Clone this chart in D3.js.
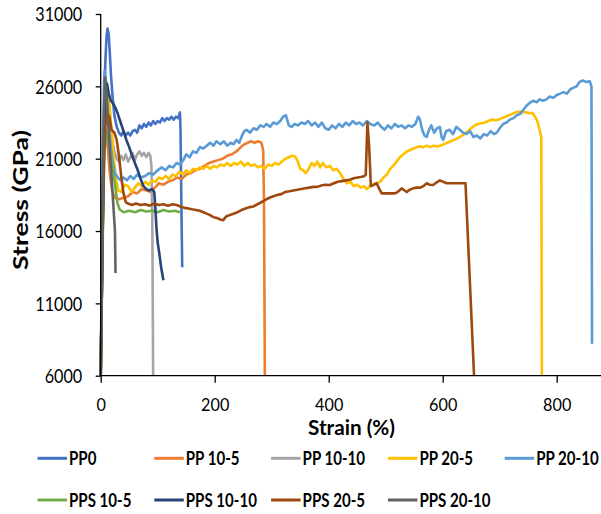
<!DOCTYPE html>
<html><head><meta charset="utf-8">
<script src="https://cdn.jsdelivr.net/npm/d3@7"></script>
<style>body{margin:0;background:#fff}svg{display:block}text{font-family:Lato,"Open Sans",sans-serif;fill:#000}</style>
</head><body><svg id="c" width="601" height="514"></svg>
<script>
// ---------- data ----------
const xTicks = [0, 200, 400, 600, 800];
const yTicks = [6000, 11000, 16000, 21000, 26000, 31000];
const seriesNames = ["PP0", "PP 10-5", "PP 10-10", "PP 20-5", "PP 20-10", "PPS 10-5", "PPS 10-10", "PPS 20-5", "PPS 20-10"];
const seriesColors = ["#4472C4", "#ED7D31", "#A5A5A5", "#FFC000", "#5B9BD5", "#70AD47", "#264478", "#9E480E", "#636363"];

const pp0 = [[0,6000],[2,12000],[4,18000],[6,24000],[8,27500],[10,29300],[12,30000],[14,29600],[16,28300],[18,26800],[21,25200],[24,24000],[28,23200],[32,22800],[36,22600],[40,22900],[44,22600],[48,22800],[52,22600],[56,22900],[60,23000],[64,22800],[68,23300],[72,23100],[76,23400],[80,23200],[84,23500],[88,23300],[92,23600],[96,23400],[100,23600],[104,23500],[108,23800],[112,23600],[116,23800],[120,23700],[124,23900],[128,23700],[132,23900],[136,23800],[139,24200],[140,23000],[141.5,18000],[143,13500]];
const pp10_5 = [[0,6000],[3,15000],[6,21000],[9,23000],[12,22000],[16,20000],[20,18800],[25,18300],[32,18200],[40,18300],[48,18400],[56,18700],[64,18600],[72,18900],[80,18800],[88,18700],[95,19000],[102,19300],[110,19200],[118,19400],[126,19500],[134,19700],[142,19600],[150,19900],[158,20000],[166,20200],[174,20300],[182,20500],[190,20700],[198,20800],[206,20900],[214,21000],[222,21200],[230,21300],[238,21500],[246,21800],[252,22000],[258,22100],[264,22200],[270,22100],[276,22200],[282,22100],[285,21600],[286.5,18000],[288,6000]];
const pp10_10 = [[0,6000],[3,15000],[6,23000],[9,25300],[12,24800],[16,23500],[20,22300],[24,21500],[28,21000],[32,20800],[36,21200],[40,20900],[44,21300],[48,20800],[52,21100],[56,21400],[60,20900],[64,21300],[68,21500],[72,21200],[76,21400],[80,21100],[84,21400],[87,21200],[89,20500],[90.5,17000],[92,6000]];
const pp20_5 = [[0,6000],[3,16000],[6,23000],[9,25500],[12,26000],[15,25000],[19,23000],[23,21000],[27,19500],[31,18800],[36,18700],[42,19200],[48,19100],[54,18700],[60,19000],[66,19300],[72,19100],[78,19400],[84,19200],[90,19500],[96,19400],[102,19700],[108,19600],[114,19800],[120,19600],[126,19900],[132,19800],[138,20100],[144,19900],[150,20200],[156,20000],[162,20300],[168,20200],[174,20400],[180,20300],[186,20500],[192,20300],[198,20500],[204,20400],[210,20600],[216,20500],[222,20700],[228,20500],[234,20700],[240,20600],[246,20800],[252,20500],[258,20700],[264,20500],[270,20600],[276,20400],[282,20500],[288,20300],[294,20600],[300,20500],[306,20700],[312,20600],[318,20800],[324,21000],[330,21100],[336,21200],[341,21150],[346,20800],[350,20300],[355,20200],[360,20000],[365,20300],[370,20700],[375,20500],[380,20800],[385,20400],[390,20700],[396,20400],[402,20500],[408,20200],[414,20300],[420,20000],[426,19600],[432,19300],[438,19400],[444,19100],[450,19200],[456,19000],[462,19100],[467,18900],[472,19100],[478,19200],[484,19300],[490,19400],[496,19700],[502,19900],[508,20300],[513,20500],[519,20800],[525,21100],[531,21300],[537,21500],[543,21600],[549,21700],[555,21800],[560,21850],[566,21800],[572,21900],[578,21800],[584,21900],[590,21850],[596,21900],[602,22000],[608,22100],[614,22200],[620,22300],[626,22400],[632,22550],[638,22700],[644,22900],[650,23100],[656,23300],[662,23400],[668,23450],[674,23500],[680,23600],[686,23700],[692,23650],[698,23700],[704,23800],[710,23900],[716,24000],[722,24100],[728,24200],[734,24250],[740,24250],[746,24200],[752,24150],[758,24150],[762,23900],[766,23600],[770,23000],[773,22500],[774,6000]];
const pp20_10 = [[0,6000],[2,14000],[4,22000],[6,26500],[7,27100],[9,26500],[12,24500],[16,22500],[20,21000],[25,20000],[30,19700],[35,19500],[40,19700],[46,19500],[52,19800],[58,19600],[64,19900],[70,19700],[78,19800],[85,20000],[92,19900],[100,20200],[107,20400],[114,20200],[120,20500],[127,20400],[133,20700],[139,20600],[145,20900],[150,21300],[156,21100],[162,21500],[168,21400],[174,21800],[180,21700],[186,21900],[192,22100],[198,21900],[203,22200],[210,22000],[216,22200],[222,21900],[228,22100],[233,22000],[238,22300],[243,22100],[248,22600],[252,22900],[256,23000],[262,22800],[268,23100],[274,23000],[280,23300],[286,23200],[291,23400],[297,23200],[303,23500],[309,23400],[315,23600],[320,23900],[325,24000],[330,23300],[335,23200],[340,23400],[346,23300],[352,23500],[358,23400],[364,23600],[370,23300],[376,23500],[382,23200],[388,23500],[394,23100],[400,23000],[406,23300],[412,23100],[418,23400],[424,23200],[430,23500],[436,23300],[442,23600],[448,23400],[454,23500],[460,23300],[467,23600],[473,23400],[480,23300],[486,23500],[492,23200],[498,23000],[504,23300],[510,23100],[516,23400],[522,23200],[528,23300],[534,23100],[540,23300],[546,23200],[552,23400],[557,23900],[560,23700],[564,23000],[568,22600],[572,22500],[576,23000],[580,23300],[585,22800],[590,23100],[595,23200],[598,22500],[601,22300],[606,22900],[612,23000],[618,22700],[624,23200],[630,23000],[636,22800],[642,22700],[648,22900],[654,22500],[660,22600],[666,22400],[672,22700],[678,22600],[684,22900],[690,22700],[695,22800],[700,23100],[706,23400],[712,23500],[718,23700],[724,23800],[730,24000],[736,24100],[742,24400],[748,24700],[754,24900],[759,25000],[765,24900],[770,25100],[776,25000],[782,25100],[788,25300],[794,25200],[800,25400],[806,25500],[812,25600],[818,25500],[824,25800],[829,25900],[835,26000],[840,26300],[846,26400],[852,26300],[858,26350],[861,26000],[862,8200]];
const pps10_5 = [[0,6000],[3,14000],[6,21000],[9,22900],[12,22500],[16,21500],[20,20500],[25,19300],[29,18000],[33,17500],[40,17300],[50,17400],[60,17300],[70,17450],[80,17350],[90,17400],[100,17300],[110,17450],[120,17350],[130,17400],[139,17300]];
const pps10_10 = [[0,6000],[3,15000],[6,23000],[9,25800],[11,26200],[14,25500],[18,25000],[22,24800],[26,24500],[30,24100],[35,23500],[40,22900],[45,22300],[50,21800],[55,21200],[60,20700],[65,20200],[70,19600],[75,19100],[80,18900],[85,18800],[90,18900],[94,18700],[96,17500],[98,16100],[100,15200],[103,14400],[106,13500],[110,12600]];
const pps20_5 = [[0,6000],[3,15000],[6,21500],[9,23800],[12,24100],[15,23900],[19,23000],[24,22800],[28,22300],[32,21200],[36,19800],[40,18600],[44,18000],[48,17900],[55,17800],[62,17900],[70,17800],[78,17850],[86,17750],[94,17900],[102,17800],[110,17850],[118,17750],[126,17850],[133,17800],[140,17700],[147,17600],[154,17550],[160,17500],[167,17450],[174,17400],[180,17300],[186,17200],[192,17100],[198,16950],[204,16900],[210,16800],[215,16750],[220,17000],[226,17100],[233,17200],[240,17300],[247,17450],[254,17550],[261,17650],[268,17700],[275,17850],[282,18000],[289,18150],[296,18300],[303,18400],[310,18500],[317,18550],[324,18700],[331,18750],[338,18800],[345,18850],[352,18900],[359,18950],[366,19000],[373,19050],[380,19050],[387,19150],[394,19200],[402,19180],[409,19300],[416,19400],[423,19450],[430,19500],[437,19550],[444,19650],[451,19700],[458,19750],[463,19800],[465,19900],[468,23500],[471,21800],[474,19100],[479,19200],[484,19300],[489,18900],[493,18600],[500,18600],[507,18600],[514,18600],[519,18650],[524,18800],[528,18950],[533,18800],[537,18700],[542,18850],[548,18950],[555,19000],[561,19000],[566,19100],[572,19300],[577,19200],[583,19180],[589,19350],[595,19500],[601,19400],[607,19300],[615,19300],[625,19300],[633,19300],[640,19300],[655,6000]];
const pps20_10 = [[0,6000],[3,15000],[5,23000],[7.5,26600],[10,25500],[13,23500],[17,21000],[21,18500],[25,16000],[26,13100]];

const seriesData = [pp0, pp10_5, pp10_10, pp20_5, pp20_10, pps10_5, pps10_10, pps20_5, pps20_10];

// ---------- layout ----------
const svg = d3.select("#c");
const x0 = 100.7, yBottom = 375.7, yTop = 14, pxPerUnit = 0.57;
const x = d3.scaleLinear().domain([0, 900]).range([x0, x0 + 900 * pxPerUnit]);
const y = d3.scaleLinear().domain([6000, 31000]).range([yBottom, yTop]);

// narrow a text horizontally (Calibri-like look) with a scale transform
function squeeze(sel, tx, ty, factor, rot) {
  sel.each(function () {
    const n = this.getComputedTextLength();
    const f = typeof factor === "function" ? factor(n) : factor;
    this.setAttribute("x", 0);
    this.setAttribute("y", 0);
    this.setAttribute("transform", `translate(${tx},${ty})${rot ? " rotate(" + rot + ")" : ""} scale(${f},1)`);
  });
}

// series lines
const line = d3.line().x(d => x(d[0])).y(d => y(d[1]));
svg.append("g").selectAll("path").data(seriesData).join("path")
  .attr("d", line).attr("fill", "none")
  .attr("stroke", (d, i) => seriesColors[i])
  .attr("stroke-width", 2.6).attr("stroke-linejoin", "round");

// axes
const yAxis = d3.axisLeft(y).tickValues(yTicks).tickSize(5).tickFormat(d3.format("d"));
const gy = svg.append("g").attr("transform", `translate(${x0},0)`).call(yAxis);
gy.select(".domain").attr("stroke", "#000").attr("stroke-width", 1.3).attr("d", `M0,${yTop}V${yBottom}`);
gy.selectAll(".tick line").attr("stroke", "#000").attr("stroke-width", 1.3);
const yLab = gy.selectAll(".tick text").attr("font-size", 18.5).attr("dy", null)
  .attr("font-family", "Lato").attr("fill", "#000");

const xAxis = d3.axisBottom(x).tickValues(xTicks).tickSize(7).tickFormat(d3.format("d"));
const gx = svg.append("g").attr("transform", `translate(0,${yBottom})`).call(xAxis);
gx.select(".domain").attr("stroke", "#000").attr("stroke-width", 1.3).attr("d", `M${x0},0H601`);
gx.selectAll(".tick line").attr("stroke", "#000").attr("stroke-width", 1.3);
const xLab = gx.selectAll(".tick text").attr("font-size", 18).attr("dy", null)
  .attr("font-family", "Lato").attr("fill", "#000");

// compress digits to the narrow look of the original
const refDigit = svg.append("text").attr("font-size", 18.5).attr("font-family", "Lato").text("31000");
const digitFactor = 47 / refDigit.node().getComputedTextLength();
refDigit.remove();
squeeze(yLab, -18.5, 6.7, digitFactor);
squeeze(xLab, 0, 35.4, digitFactor * 18.5 / 18);

// axis titles
const xt = svg.append("text").attr("text-anchor", "middle")
  .attr("font-size", 20).attr("font-weight", "bold").text("Strain (%)");
squeeze(xt, 351.5, 435, n => 87 / n);
const yt = svg.append("text").attr("text-anchor", "middle")
  .attr("font-size", 21).attr("font-weight", "bold").text("Stress (GPa)");
squeeze(yt, 27.5, 200, n => 140 / n, -90);

// legend
const legX0 = 37.5, legDX = 116.8, legRows = [465, 506.7], legLen = 29.5;
const refLeg = svg.append("text").attr("font-size", 18.5).attr("font-weight", "bold").text("PP 10-10");
const legFactor = 62.5 / refLeg.node().getComputedTextLength();
refLeg.remove();
const leg = svg.append("g").selectAll("g").data(seriesNames).join("g")
  .attr("transform", (d, i) => {
    const r = i < 5 ? 0 : 1, c = i < 5 ? i : i - 5;
    return `translate(${legX0 + c * legDX},${legRows[r]})`;
  });
leg.append("line").attr("x1", 0).attr("x2", legLen).attr("y1", -6.7).attr("y2", -6.7)
  .attr("stroke", (d, i) => seriesColors[i]).attr("stroke-width", 3);
const legText = leg.append("text")
  .attr("font-size", 18.5).attr("font-weight", "bold").text(d => d);
squeeze(legText, legLen + 2, 0, legFactor);
</script></body></html>
